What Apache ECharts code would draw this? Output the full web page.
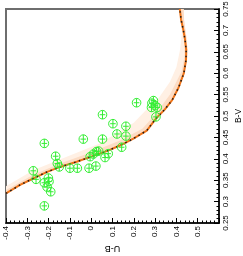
<!DOCTYPE html>
<html><head><meta charset="utf-8">
<script src="https://cdn.jsdelivr.net/npm/echarts@6/dist/echarts.min.js"></script>
<style>html,body{margin:0;padding:0;background:#fff}#c{width:243px;height:256px}</style>
</head><body><div id="c"></div>
<script>
// Model track (U-B, B-V)
var trackCurve = [[-0.400,0.319],[-0.334,0.339],[-0.272,0.354],[-0.209,0.369],[-0.146,0.381],[-0.068,0.393],[-0.006,0.404],[0.073,0.418],[0.135,0.431],[0.198,0.447],[0.261,0.466],[0.304,0.494],[0.345,0.515],[0.380,0.537],[0.410,0.566],[0.435,0.600],[0.445,0.630],[0.446,0.655],[0.440,0.680],[0.432,0.702],[0.422,0.725],[0.416,0.750]];
// Shaded band edges (outer, light)
var bandUpperLeft = [[-0.400,0.336],[-0.270,0.374],[-0.150,0.398],[0.040,0.436],[0.200,0.484],[0.260,0.515],[0.314,0.540],[0.370,0.580],[0.400,0.614],[0.417,0.654],[0.426,0.694],[0.412,0.750]];
var bandLowerRight = [[-0.400,0.319],[-0.272,0.354],[-0.146,0.381],[-0.006,0.404],[0.135,0.431],[0.261,0.466],[0.304,0.494],[0.380,0.537],[0.435,0.600],[0.450,0.630],[0.452,0.655],[0.448,0.680],[0.442,0.702],[0.436,0.725],[0.434,0.750]];
// Inner, darker strip along the track
var bandInner = [[-0.400,0.327],[-0.272,0.363],[-0.146,0.389],[-0.006,0.414],[0.135,0.443],[0.240,0.470],[0.300,0.503],[0.370,0.550],[0.425,0.605],[0.438,0.640],[0.438,0.680],[0.425,0.720],[0.418,0.750]];
// Observed stars (U-B, B-V)
var starsUB = [-0.220,-0.190,-0.207,-0.220,-0.198,-0.201,-0.259,-0.272,-0.150,-0.159,-0.167,-0.220,-0.100,-0.065,-0.010,0.022,-0.005,0.010,0.025,0.035,0.065,0.080,-0.037,0.053,0.053,0.102,0.121,0.163,0.163,0.143,0.213,0.285,0.292,0.300,0.283,0.310,0.304];
var starsBV = [0.290,0.323,0.334,0.344,0.347,0.355,0.352,0.372,0.381,0.389,0.406,0.436,0.378,0.378,0.378,0.383,0.405,0.411,0.417,0.418,0.403,0.412,0.446,0.446,0.503,0.482,0.458,0.476,0.453,0.427,0.531,0.530,0.536,0.524,0.520,0.520,0.498];
var xTicks = {min:-0.4, max:0.6, interval:0.1};
var yTicks = {min:0.25, max:0.75, interval:0.05};

var stars = starsUB.map(function(u,i){return [u, starsBV[i]];});
var bandPoly = bandUpperLeft.concat(bandLowerRight.slice().reverse());
var innerPoly = bandInner.concat(bandLowerRight.slice().reverse());
var FONT = '"Liberation Sans", Arial, sans-serif';

var chart = echarts.init(document.getElementById('c'), null, {renderer:'canvas'});
chart.setOption({
  animation:false,
  backgroundColor:'#fff',
  grid:{left:6, top:9, right:24, bottom:33, containLabel:false, outerBoundsMode:'none',
        show:true, borderColor:'#6e6e6e', borderWidth:2, backgroundColor:'transparent'},
  xAxis:{type:'value', min:xTicks.min, max:xTicks.max, interval:xTicks.interval, position:'bottom',
    name:'U-B', nameLocation:'middle', nameGap:21, nameRotate:180, nameMoveOverlap:false,
    nameTextStyle:{fontSize:9, color:'#000', fontFamily:FONT},
    axisLine:{show:true, onZero:false, lineStyle:{color:'#000', width:1.5}},
    axisTick:{show:true, inside:true, length:5, lineStyle:{color:'#000', width:1}},
    minorTick:{show:true, splitNumber:5, length:2.5, lineStyle:{color:'#000', width:1}},
    splitLine:{show:false},
    axisLabel:{rotate:90, fontSize:8, color:'#000', fontFamily:FONT, margin:3,
      showMaxLabel:false,
      formatter:function(v){return (Math.round(v*10)/10).toString();}}
  },
  yAxis:{type:'value', min:yTicks.min, max:yTicks.max, interval:yTicks.interval, position:'right',
    name:'B-V', nameLocation:'middle', nameGap:15, nameMoveOverlap:false,
    nameTextStyle:{fontSize:8.5, color:'#000', fontFamily:FONT},
    axisLine:{show:true, onZero:false, lineStyle:{color:'#000', width:1.5}},
    axisTick:{show:true, inside:true, length:5, lineStyle:{color:'#000', width:1}},
    minorTick:{show:true, splitNumber:5, length:2.5, lineStyle:{color:'#000', width:1}},
    splitLine:{show:false},
    axisLabel:{rotate:90, fontSize:8, color:'#000', fontFamily:FONT, margin:3,
      formatter:function(v){return (Math.round(v*100)/100).toString();}}
  },
  series:[
    {type:'custom', coordinateSystem:'cartesian2d', data:[[0,0]], silent:true, z:1,
      renderItem:function(params, api){
        var pts = bandPoly.map(function(p){return api.coord(p);});
        var pts2 = innerPoly.map(function(p){return api.coord(p);});
        return {type:'group', children:[
          {type:'polygon', shape:{points:pts}, style:{fill:'#fff0e4', stroke:null}},
          {type:'polygon', shape:{points:pts2}, style:{fill:'#fcdcc4', stroke:null}}
        ]};
      }},
    {type:'line', data:trackCurve, showSymbol:false, symbol:'none', z:3,
      lineStyle:{color:'#f07418', width:2}},
    {type:'line', data:trackCurve, showSymbol:false, symbol:'none', z:4,
      lineStyle:{color:'#1a1a1a', width:1.5, type:[1.5,3.5]}},
    {type:'custom', coordinateSystem:'cartesian2d', data:stars, z:5,
      renderItem:function(params, api){
        var c = api.coord([api.value(0), api.value(1)]);
        var r = 4.3, col = '#33ee33';
        return {type:'group', children:[
          {type:'circle', shape:{cx:c[0], cy:c[1], r:r}, style:{fill:null, stroke:col, lineWidth:1}},
          {type:'line', shape:{x1:c[0], y1:c[1]-r, x2:c[0], y2:c[1]+r}, style:{stroke:col, lineWidth:1}},
          {type:'line', shape:{x1:c[0]-r+1.5, y1:c[1], x2:c[0]+r-1.5, y2:c[1]}, style:{stroke:col, lineWidth:1}}
        ]};
      }}
  ]
});
</script></body></html>
